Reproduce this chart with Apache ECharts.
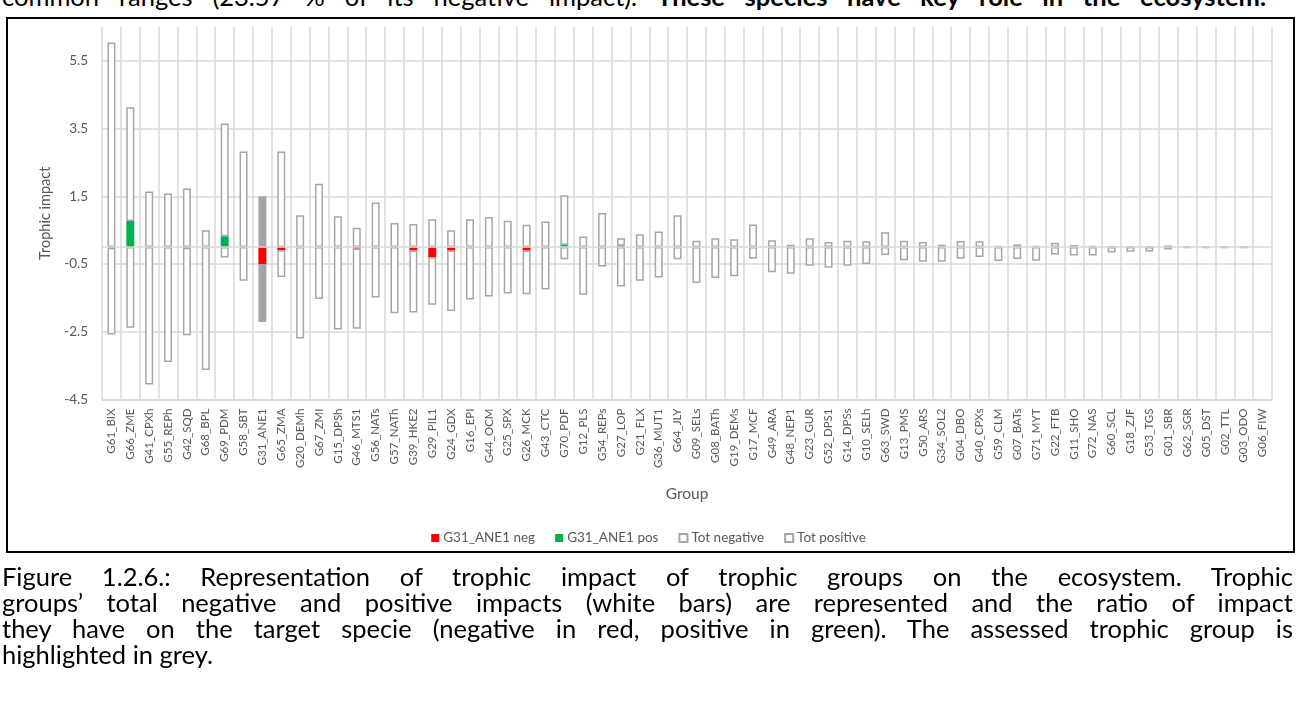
<!DOCTYPE html>
<html>
<head>
<meta charset="utf-8">
<script src="https://cdn.jsdelivr.net/npm/echarts@6/dist/echarts.min.js"></script>
<style>
  html, body { margin: 0; padding: 0; background: #fff; }
  body { width: 1297px; height: 709px; overflow: hidden; position: relative; font-family: Lato, "Liberation Sans", sans-serif; }
  #topline { position: absolute; left: 2px; top: -17px; width: 1264px; font-size: 25.5px; line-height: 26px; white-space: nowrap; text-align: justify; text-align-last: justify; color: #000; }
  #frame { position: absolute; left: 6px; top: 17px; width: 1289px; height: 536px; box-sizing: border-box; border: 2px solid #000; background: #fff; }
  #chart { position: absolute; left: 0; top: 0; width: 1297px; height: 709px; }
  #caption { position: absolute; left: 2px; top: 563px; width: 1291px; font-size: 25.5px; line-height: 26px; color: #000; }
  #caption div { text-align: justify; text-align-last: justify; white-space: nowrap; }
  #caption div.last { text-align: left; text-align-last: left; }
</style>
</head>
<body>
<div id="topline">common ranges (23.57 % of its negative impact). <b>These species have key role in the ecosystem.</b></div>
<div id="frame"></div>
<div id="chart"></div>
<div id="caption">
  <div>Figure 1.2.6.: Representation of trophic impact of trophic groups on the ecosystem. Trophic</div>
  <div>groups’ total negative and positive impacts (white bars) are represented and the ratio of impact</div>
  <div>they have on the target specie (negative in red, positive in green). The assessed trophic group is</div>
  <div class="last">highlighted in grey.</div>
</div>
<script>
// Trophic groups, ordered by total impact
const groups = [
  'G61_BIX','G66_ZME','G41_CPXh','G55_REPh','G42_SQD','G68_BPL','G69_PDM','G58_SBT','G31_ANE1','G65_ZMA',
  'G20_DEMh','G67_ZMI','G15_DPSh','G46_MTS1','G56_NATs','G57_NATh','G39_HKE2','G29_PIL1','G24_GDX','G16_EPI',
  'G44_OCM','G25_SPX','G26_MCK','G43_CTC','G70_PDF','G12_PLS','G54_REPs','G27_LOP','G21_FLX','G36_MUT1',
  'G64_JLY','G09_SELs','G08_BATh','G19_DEMs','G17_MCF','G49_ARA','G48_NEP1','G23_GUR','G52_DPS1','G14_DPSs',
  'G10_SELh','G63_SWD','G13_PMS','G50_ARS','G34_SOL2','G04_DBO','G40_CPXs','G59_CLM','G07_BATs','G71_MYT',
  'G22_FTB','G11_SHO','G72_NAS','G60_SCL','G18_ZJF','G53_TGS','G01_SBR','G62_SGR','G05_DST','G02_TTL',
  'G03_ODO','G06_FIW'
];

// Total positive impact of each group
const totPositive = [
  6.04, 4.13, 1.64, 1.58, 1.73, 0.50, 3.65, 2.82, 1.50, 2.82,
  0.94, 1.87, 0.91, 0.57, 1.32, 0.71, 0.68, 0.82, 0.50, 0.82,
  0.89, 0.78, 0.66, 0.76, 1.53, 0.31, 1.01, 0.26, 0.38, 0.46,
  0.94, 0.19, 0.26, 0.23, 0.67, 0.20, 0.07, 0.26, 0.15, 0.19,
  0.17, 0.44, 0.19, 0.15, 0.07, 0.18, 0.17, 0.04, 0.08, 0.04,
  0.13, 0.06, 0.04, 0.02, 0.02, 0.02, 0.05, 0.02, 0.02, 0.02,
  0.02, 0
];

// Total negative impact of each group
const totNegative = [
  -2.58, -2.38, -4.06, -3.39, -2.60, -3.63, -0.31, -0.99, -2.21, -0.88,
  -2.70, -1.53, -2.43, -2.41, -1.49, -1.95, -1.93, -1.70, -1.89, -1.55,
  -1.46, -1.37, -1.39, -1.25, -0.36, -1.41, -0.57, -1.16, -0.99, -0.90,
  -0.36, -1.06, -0.91, -0.86, -0.34, -0.74, -0.79, -0.55, -0.61, -0.55,
  -0.50, -0.23, -0.39, -0.43, -0.43, -0.34, -0.29, -0.41, -0.35, -0.40,
  -0.22, -0.25, -0.25, -0.16, -0.14, -0.13, -0.07, -0.02, -0.02, -0.02,
  -0.02, 0
];

// Part of each group's impact falling on G31_ANE1 (negative / positive)
const aneNeg = [
  -0.02, 0, 0, 0, -0.02, 0, 0, 0, -0.50, -0.09,
  0, 0, 0, -0.04, 0, 0, -0.10, -0.30, -0.10, 0,
  0, 0, -0.10, 0, 0, 0, 0, 0, 0, 0,
  0, 0, 0, 0, 0, 0, 0, 0, 0, 0,
  0, 0, 0, 0, 0, 0, 0, 0, 0, 0,
  0, 0, 0, 0, 0, 0, 0, 0, 0, 0,
  0, 0
];
const anePos = [
  0, 0.77, 0, 0, 0, 0, 0.32, 0, 0, 0,
  0, 0, 0, 0, 0, 0, 0, 0, 0, 0,
  0, 0, 0, 0, 0.06, 0, 0, 0.04, 0, 0,
  0, 0, 0, 0, 0, 0, 0, 0, 0, 0,
  0, 0, 0, 0, 0, 0, 0, 0, 0, 0,
  0, 0, 0, 0, 0, 0, 0, 0, 0, 0,
  0, 0
];

const assessedGroup = 'G31_ANE1';
const yTicks = { min: -4.5, max: 6.5, step: 2 };

const axisGrey = '#595959';
const gridGrey = '#D9D9D9';
const barEdge = '#A6A6A6';
const highlight = '#A5A5A5';

const nz = v => (v === 0 ? null : +v.toFixed(4));

// Stacked segments: the ANE1 share sits next to zero, the rest of the total above/below it
const negRest = totNegative.map((t, i) => nz(t - aneNeg[i]));
const posRest = totPositive.map((t, i) => nz(t - anePos[i]));

const totalItems = rest => rest.map((v, i) => groups[i] === assessedGroup
  ? { value: v, itemStyle: { color: highlight, borderColor: highlight } }
  : v);

const whiteBar = { color: '#FFFFFF', borderColor: barEdge, borderWidth: 1.5 };
const barW = 8;

const chart = echarts.init(document.getElementById('chart'), null, { renderer: 'canvas' });
chart.setOption({
  animation: false,
  backgroundColor: 'transparent',
  textStyle: { fontFamily: 'Lato, "Liberation Sans", sans-serif' },
  grid: { left: 102, right: 25, top: 27, bottom: 309.5, containLabel: false },
  legend: {
    top: 526, left: 'center',
    icon: 'rect', itemWidth: 8, itemHeight: 8, itemGap: 20,
    textStyle: { color: axisGrey, fontSize: 13.5, padding: [0, 0, 0, -1] },
    data: ['G31_ANE1 neg', 'G31_ANE1 pos', 'Tot negative', 'Tot positive']
  },
  xAxis: {
    type: 'category',
    data: groups,
    name: 'Group', nameLocation: 'middle', nameGap: 86,
    nameTextStyle: { color: axisGrey, fontSize: 15.5 },
    axisLine: { show: true, onZero: false, lineStyle: { color: gridGrey, width: 1.5 } },
    axisTick: { show: false },
    axisLabel: { interval: 0, rotate: 90, color: axisGrey, fontSize: 11.5, margin: 9 },
    splitLine: { show: true, interval: 0, lineStyle: { color: gridGrey, width: 1.5 } }
  },
  yAxis: {
    type: 'value',
    min: yTicks.min, max: yTicks.max, interval: yTicks.step,
    name: 'Trophic impact', nameLocation: 'middle', nameGap: 42,
    nameTextStyle: { color: axisGrey, fontSize: 14.5 },
    axisLine: { show: false }, axisTick: { show: false },
    axisLabel: { color: axisGrey, fontSize: 13.5, margin: 14, showMaxLabel: false,
      formatter: v => v.toFixed(1) },
    splitLine: { show: true, showMaxLine: false, lineStyle: { color: gridGrey, width: 1.5 } }
  },
  series: [
    {
      name: 'G31_ANE1 neg', type: 'bar', stack: 'impact', barWidth: barW,
      itemStyle: { color: '#FF0000' },
      data: aneNeg.map(nz),
      markLine: {
        silent: true, symbol: 'none', label: { show: false },
        lineStyle: { color: gridGrey, width: 1.5, type: 'solid' },
        data: [{ yAxis: 0 }]
      }
    },
    {
      name: 'G31_ANE1 pos', type: 'bar', stack: 'impact', barWidth: barW,
      itemStyle: { color: '#00B050' },
      data: anePos.map(nz)
    },
    {
      name: 'Tot negative', type: 'bar', stack: 'impact', barWidth: barW,
      itemStyle: whiteBar,
      data: totalItems(negRest)
    },
    {
      name: 'Tot positive', type: 'bar', stack: 'impact', barWidth: barW,
      itemStyle: whiteBar,
      data: totalItems(posRest)
    }
  ]
});
</script>
</body>
</html>
